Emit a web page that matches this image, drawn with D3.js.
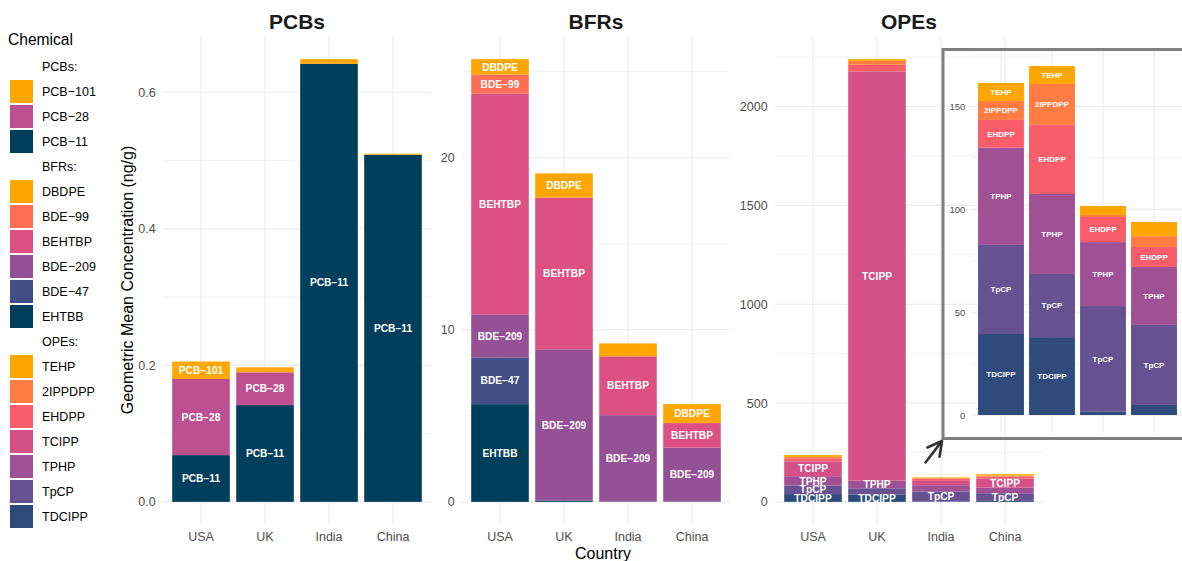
<!DOCTYPE html>
<html>
<head>
<meta charset="utf-8">
<script src="https://cdn.jsdelivr.net/npm/d3@7"></script>
<style>
  body { margin: 0; background: #fff; }
  svg { display: block; font-family: "Liberation Sans", Arial, Helvetica, sans-serif; }
</style>
</head>
<body>
<div id="chart"></div>
<script>
// countries on the x axis of every panel
let countries = ["USA", "UK", "India", "China"];

// PCBs (stacked bottom -> top), ng/g
let pcbChems = ["PCB-11", "PCB-28", "PCB-101"];
let pcbColors = ["#003f5c", "#bc5090", "#ffa600"];
let pcbValues = [
  [0.0685, 0.1418, 0.6418, 0.5085],
  [0.1115, 0.0480, 0.0000, 0.0000],
  [0.0256, 0.0073, 0.0068, 0.0015]
];
let pcbTicks = [0, 0.2, 0.4, 0.6];
let pcbMinor = [0.1, 0.3, 0.5];

// BFRs
let bfrChems = ["EHTBB", "BDE-47", "BDE-209", "BEHTBP", "BDE-99", "DBDPE"];
let bfrColors = ["#003f5c", "#444e86", "#955196", "#dd5182", "#ff6e54", "#ffa600"];
let bfrValues = [
  [5.68, 0.08, 0.02, 0.02],
  [2.71, 0.00, 0.00, 0.00],
  [2.51, 8.79, 5.02, 3.13],
  [12.83, 8.81, 3.42, 1.43],
  [1.10, 0.00, 0.00, 0.00],
  [0.90, 1.41, 0.75, 1.10]
];
let bfrTicks = [0, 10, 20];
let bfrMinor = [5, 15, 25];

// OPEs
let opeChems = ["TDCIPP", "TpCP", "TPHP", "TCIPP", "EHDPP", "2IPPDPP", "TEHP"];
let opeColors = ["#2f4b7c", "#665191", "#a05195", "#d45087", "#f95d6a", "#ff7c43", "#ffa600"];
let opeValues = [
  [39.4, 37.9, 1.6, 4.9],
  [43.3, 30.7, 51.4, 38.9],
  [47.3, 38.9, 31.1, 28.2],
  [75.0, 2070.0, 22.0, 46.0],
  [13.5, 33.6, 12.2, 9.7],
  [9.2, 19.9, 1.0, 5.3],
  [8.8, 8.7, 4.4, 6.9]
];
let opeTicks = [0, 500, 1000, 1500, 2000];
let opeMinor = [250, 750, 1250, 1750, 2250];

// zoomed inset of OPEs without TCIPP
let insetTicks = [0, 50, 100, 150];
let insetMinor = [25, 75, 125, 175];

let svgWidth = 1182;
let svgHeight = 561;
let plotTop = 37;
let plotBottom = 524;
let gridColor = "#ebebeb";
let tickColor = "#4d4d4d";

let svg = d3.select("#chart")
  .append("svg")
  .attr("width", svgWidth)
  .attr("height", svgHeight)

svg.append("rect").attr("width", svgWidth).attr("height", svgHeight).attr("fill", "#fff")

function dash(s) { return s.replace("-", "\u2212"); }

function drawPanel(opts) {
  let g = svg.append("g")
  let totals = countries.map((c, i) => d3.sum(opts.values, v => v[i]))
  let maxTotal = d3.max(totals)

  let xScale = d3.scaleBand().domain(countries)
    .range([opts.left, opts.right]).paddingInner(0.1).paddingOuter(0.15)
  let yScale = d3.scaleLinear().domain([-0.05 * maxTotal, 1.05 * maxTotal])
    .range([opts.bottom, opts.top])

  // grid
  g.selectAll(".minor").data(opts.minor.filter(v => v <= 1.05 * maxTotal)).enter()
    .append("line")
    .attr("x1", opts.left).attr("x2", opts.right)
    .attr("y1", d => yScale(d)).attr("y2", d => yScale(d))
    .attr("stroke", gridColor).attr("stroke-width", 0.6)
  g.selectAll(".major").data(opts.ticks).enter()
    .append("line")
    .attr("x1", opts.left).attr("x2", opts.right)
    .attr("y1", d => yScale(d)).attr("y2", d => yScale(d))
    .attr("stroke", gridColor).attr("stroke-width", 1.1)
  g.selectAll(".vgrid").data(countries).enter()
    .append("line")
    .attr("x1", d => xScale(d) + xScale.bandwidth() / 2)
    .attr("x2", d => xScale(d) + xScale.bandwidth() / 2)
    .attr("y1", opts.top).attr("y2", opts.bottom)
    .attr("stroke", gridColor).attr("stroke-width", 1.1)

  // stacked bars
  let rows = countries.map((c, i) => {
    let o = {country: c}
    opts.chems.forEach((k, j) => { o[k] = opts.values[j][i] })
    return o
  })
  let series = d3.stack().keys(opts.chems)(rows)

  let layers = g.selectAll(".layer").data(series).enter()
    .append("g")
    .attr("fill", (d, i) => opts.colors[i])
  layers.selectAll("rect").data(d => d).enter()
    .append("rect")
    .attr("x", d => xScale(d.data.country))
    .attr("width", xScale.bandwidth())
    .attr("y", d => yScale(d[1]))
    .attr("height", d => yScale(d[0]) - yScale(d[1]))

  // segment labels
  series.forEach(s => {
    g.selectAll(null).data(s.filter(d => d[1] - d[0] >= opts.labelMin)).enter()
      .append("text")
      .attr("x", d => xScale(d.data.country) + xScale.bandwidth() / 2)
      .attr("y", d => yScale((d[0] + d[1]) / 2))
      .attr("dy", "0.36em")
      .attr("text-anchor", "middle")
      .attr("font-size", opts.labelFont)
      .attr("font-weight", "bold")
      .attr("fill", "#fff")
      .text(dash(s.key))
  })

  // axes
  let yAxis = d3.axisLeft(yScale).tickValues(opts.ticks).tickFormat(opts.fmt)
    .tickSize(0).tickPadding(opts.tickPad)
  let ya = g.append("g")
    .attr("transform", `translate(${opts.left},0)`)
    .call(yAxis)
  ya.select(".domain").remove()
  ya.attr("font-family", null).attr("font-size", opts.tickFont)
  ya.selectAll("text").attr("fill", tickColor)

  if (opts.showX) {
    let xa = g.append("g")
      .attr("transform", `translate(0,${opts.bottom})`)
      .call(d3.axisBottom(xScale).tickSize(0).tickPadding(8))
    xa.select(".domain").remove()
    xa.attr("font-family", null).attr("font-size", 12.5)
    xa.selectAll("text").attr("fill", tickColor)
  }

  if (opts.title) {
    svg.append("text")
      .attr("x", (opts.left + opts.right) / 2)
      .attr("y", 28.5)
      .attr("text-anchor", "middle")
      .attr("font-size", 21)
      .attr("font-weight", "bold")
      .attr("fill", "#1a1a1a")
      .text(opts.title)
  }
}

drawPanel({chems: pcbChems, colors: pcbColors, values: pcbValues,
  left: 162.6, right: 431.4, top: plotTop, bottom: plotBottom,
  ticks: pcbTicks, minor: pcbMinor, fmt: d3.format(".1f"),
  tickFont: 12.5, tickPad: 7, labelFont: 10.2, labelMin: 0.02, showX: true, title: "PCBs"})

drawPanel({chems: bfrChems, colors: bfrColors, values: bfrValues,
  left: 461.6, right: 730.4, top: plotTop, bottom: plotBottom,
  ticks: bfrTicks, minor: bfrMinor, fmt: d3.format("d"),
  tickFont: 12.5, tickPad: 7, labelFont: 10.2, labelMin: 0.8, showX: true, title: "BFRs"})

drawPanel({chems: opeChems, colors: opeColors, values: opeValues,
  left: 774.6, right: 1043.4, top: plotTop, bottom: plotBottom,
  ticks: opeTicks, minor: opeMinor, fmt: d3.format("d"),
  tickFont: 12.5, tickPad: 7, labelFont: 10.2, labelMin: 35, showX: true, title: "OPEs"})

// inset (TCIPP dropped)
let keep = opeChems.map((c, i) => i).filter(i => opeChems[i] !== "TCIPP")
drawPanel({chems: keep.map(i => opeChems[i]), colors: keep.map(i => opeColors[i]),
  values: keep.map(i => opeValues[i]),
  left: 970.4, right: 1184.6, top: 48.6, bottom: 432.5,
  ticks: insetTicks, minor: insetMinor, fmt: d3.format("d"),
  tickFont: 9.5, tickPad: 5, labelFont: 8, labelMin: 8, showX: false})

// inset frame + arrow
svg.append("rect")
  .attr("x", 943).attr("y", 49.5)
  .attr("width", 260).attr("height", 389)
  .attr("fill", "none").attr("stroke", "#7f7f7f").attr("stroke-width", 3)

let tip = [942, 441], tail = [925.5, 462.5]
let ang = Math.atan2(tail[1] - tip[1], tail[0] - tip[0])
let armLen = 16
let arm = a => [tip[0] + armLen * Math.cos(ang + a), tip[1] + armLen * Math.sin(ang + a)]
svg.append("path")
  .attr("d", `M${tail}L${tip}M${arm(0.5)}L${tip}L${arm(-0.5)}`)
  .attr("fill", "none").attr("stroke", "#333").attr("stroke-width", 2.6)
  .attr("stroke-linecap", "round").attr("stroke-linejoin", "round")

// shared axis titles
svg.append("text")
  .attr("transform", "translate(127,280) rotate(-90)")
  .attr("dy", "0.35em")
  .attr("text-anchor", "middle")
  .attr("font-size", 16)
  .attr("fill", "#000")
  .text("Geometric Mean Concentration (ng/g)")

svg.append("text")
  .attr("x", 603).attr("y", 559)
  .attr("text-anchor", "middle")
  .attr("font-size", 16)
  .attr("fill", "#000")
  .text("Country")

// legend
let legendGroups = [
  {title: "PCBs:", chems: pcbChems, colors: pcbColors},
  {title: "BFRs:", chems: bfrChems, colors: bfrColors},
  {title: "OPEs:", chems: opeChems, colors: opeColors}
]
let legendRows = []
legendGroups.forEach(grp => {
  legendRows.push({label: grp.title, color: null})
  grp.chems.slice().reverse().forEach((c, i) => {
    legendRows.push({label: dash(c), color: grp.colors[grp.chems.length - 1 - i]})
  })
})

let legend = svg.append("g")
legend.append("text")
  .attr("x", 8).attr("y", 40).attr("dy", "0.35em")
  .attr("font-size", 15.6).attr("fill", "#000")
  .text("Chemical")

let rowY = i => 66.5 + i * 25
legend.selectAll("rect").data(legendRows.filter(r => r.color)).enter()
  .append("rect")
  .attr("x", 10).attr("width", 23).attr("height", 23)
  .attr("y", d => rowY(legendRows.indexOf(d)) - 11.5)
  .attr("fill", d => d.color)
legend.selectAll(".lab").data(legendRows).enter()
  .append("text")
  .attr("x", 42).attr("y", (d, i) => rowY(i)).attr("dy", "0.35em")
  .attr("font-size", 12.5).attr("fill", "#000")
  .text(d => d.label)
</script>
</body>
</html>
